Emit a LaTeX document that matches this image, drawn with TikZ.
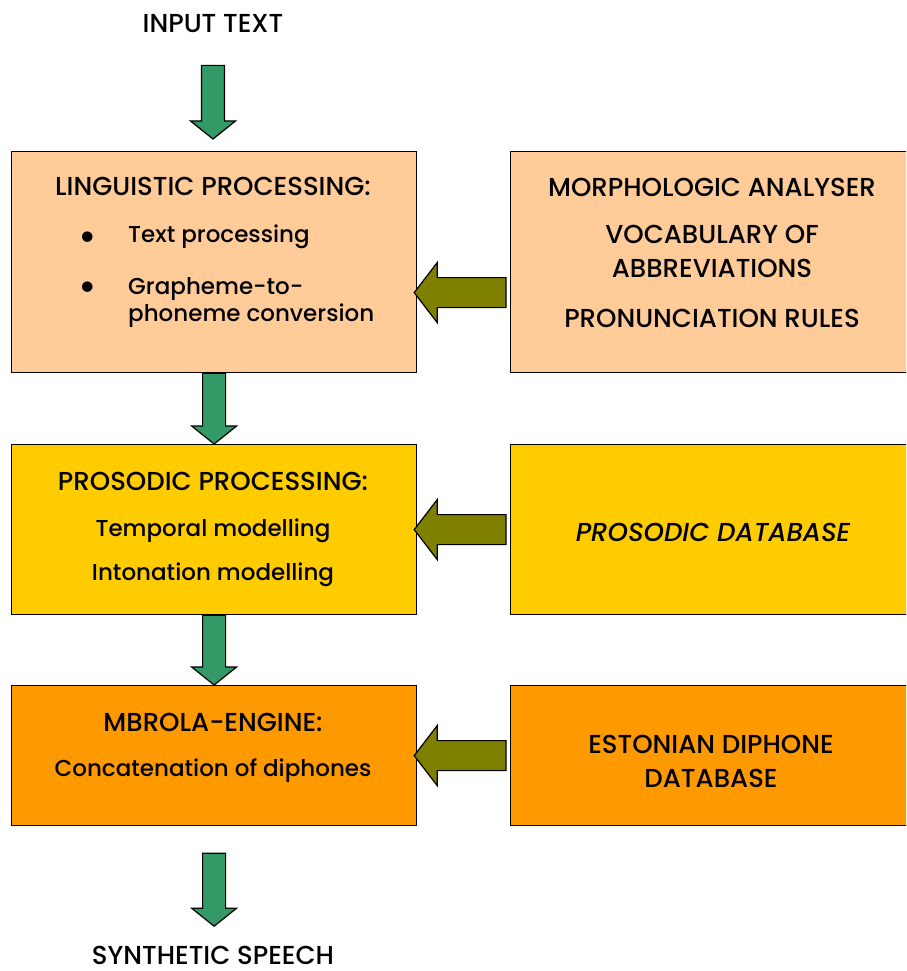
\documentclass[tikz,border=0pt]{standalone}
\usepackage{fontspec}
\setmainfont{Poppins Medium}[ItalicFont={Poppins Medium Italic}]
\usetikzlibrary{calc}
\definecolor{lingfill}{HTML}{FFCC99}
\definecolor{prosfill}{HTML}{FFCC00}
\definecolor{enginefill}{HTML}{FF9900}
\definecolor{flowgreen}{HTML}{339966}
\definecolor{feedolive}{HTML}{808000}
\begin{document}
\begin{tikzpicture}
[x=1pt,y=-1pt,
 stage box/.style={draw=black,line width=1.2pt,anchor=north west,minimum width=405pt,inner sep=0pt},
 data box/.style={draw=black,line width=1.2pt,anchor=north west,minimum width=410pt,inner sep=0pt},
 box text/.style={anchor=base,inner sep=0pt,font=\fontsize{26}{30}\selectfont},
 small text/.style={box text,font=\fontsize{23}{28}\selectfont},
 bullet mark/.style={anchor=center,inner sep=0pt,font=\fontsize{40}{40}\selectfont},
 down arrow/.style={draw=black,fill=flowgreen,line width=1.2pt,
   to path={let \p1=(\tikztostart), \p2=(\tikztotarget) in
   (\x1-11.5pt,\y1) -- (\x1+11.5pt,\y1) -- (\x1+11.5pt,\y2+18pt) -- (\x1+22.5pt,\y2+18pt)
   -- (\x1,\y2) -- (\x1-22.5pt,\y2+18pt) -- (\x1-11.5pt,\y2+18pt) -- cycle}},
 left arrow/.style={draw=black,fill=feedolive,line width=1.2pt,
   to path={let \p1=(\tikztostart), \p2=(\tikztotarget) in
   (\x1,\y1+15pt) -- (\x2+23pt,\y1+15pt) -- (\x2+23pt,\y1+30pt) -- (\x2,\y1)
   -- (\x2+23pt,\y1-30pt) -- (\x2+23pt,\y1-15pt) -- (\x1,\y1-15pt) -- cycle}}]
\path[use as bounding box,clip] (0,0) rectangle (906,971);

% processing stages
\node[stage box,fill=lingfill,minimum height=221pt] (ling) at (11,151) {};
\node[stage box,fill=prosfill,minimum height=170pt] (pros) at (11,444) {};
\node[stage box,fill=enginefill,minimum height=140pt] (mbrola) at (11,685) {};
% resources
\node[data box,fill=lingfill,minimum height=221pt] (morph) at (510,151) {};
\node[data box,fill=prosfill,minimum height=170pt] (prosdb) at (510,444) {};
\node[data box,fill=enginefill,minimum height=140pt] (diph) at (510,685) {};

\node[box text] (input) at (213,33) {INPUT TEXT};
\node[box text] (synth) at (213,964) {SYNTHETIC SPEECH};

\node[box text] (ling title) at (213,195) {LINGUISTIC PROCESSING:};
\node[bullet mark] (bullet a) at (88,241) {\textbullet};
\node[small text,anchor=base west] (ling a) at (128,242) {Text processing};
\node[bullet mark] (bullet b) at (88,291) {\textbullet};
\node[small text,anchor=base west] (ling b) at (128,294) {Grapheme-to-};
\node[small text,anchor=base west] (ling c) at (128,321) {phoneme conversion};

\node[box text] (morph a) at (712,196) {MORPHOLOGIC ANALYSER};
\node[box text] (morph b) at (712,243) {VOCABULARY OF};
\node[box text] (morph c) at (712,277) {ABBREVIATIONS};
\node[box text] (morph d) at (712,327) {PRONUNCIATION RULES};

\node[box text] (pros title) at (213,490) {PROSODIC PROCESSING:};
\node[small text] (pros a) at (213,536) {Temporal modelling};
\node[small text] (pros b) at (213,580) {Intonation modelling};
\node[box text] (prosdb a) at (713,541) {\itshape PROSODIC DATABASE};

\node[box text] (mbrola title) at (213,731) {MBROLA-ENGINE:};
\node[small text] (mbrola a) at (213,776) {Concatenation of diphones};
\node[box text] (diph a) at (711,753) {ESTONIAN DIPHONE};
\node[box text] (diph b) at (711,787) {DATABASE};

% flow
\draw[down arrow] ([yshift=-32pt]input.south) to ([yshift=12pt]ling.north);
\draw[down arrow] (ling.south) to (pros.north);
\draw[down arrow] (pros.south) to (mbrola.north);
\draw[down arrow] ([yshift=-27pt]mbrola.south) to ([yshift=-100pt]mbrola.south);
\draw[left arrow] ([shift={(-4pt,-30.5pt)}]morph.west) to ([xshift=-3pt]ling.east);
\draw[left arrow] ([xshift=-4pt]prosdb.west) to ([xshift=-3pt]pros.east);
\draw[left arrow] ([xshift=-4pt]diph.west) to ([xshift=-3pt]mbrola.east);
\end{tikzpicture}
\end{document}
